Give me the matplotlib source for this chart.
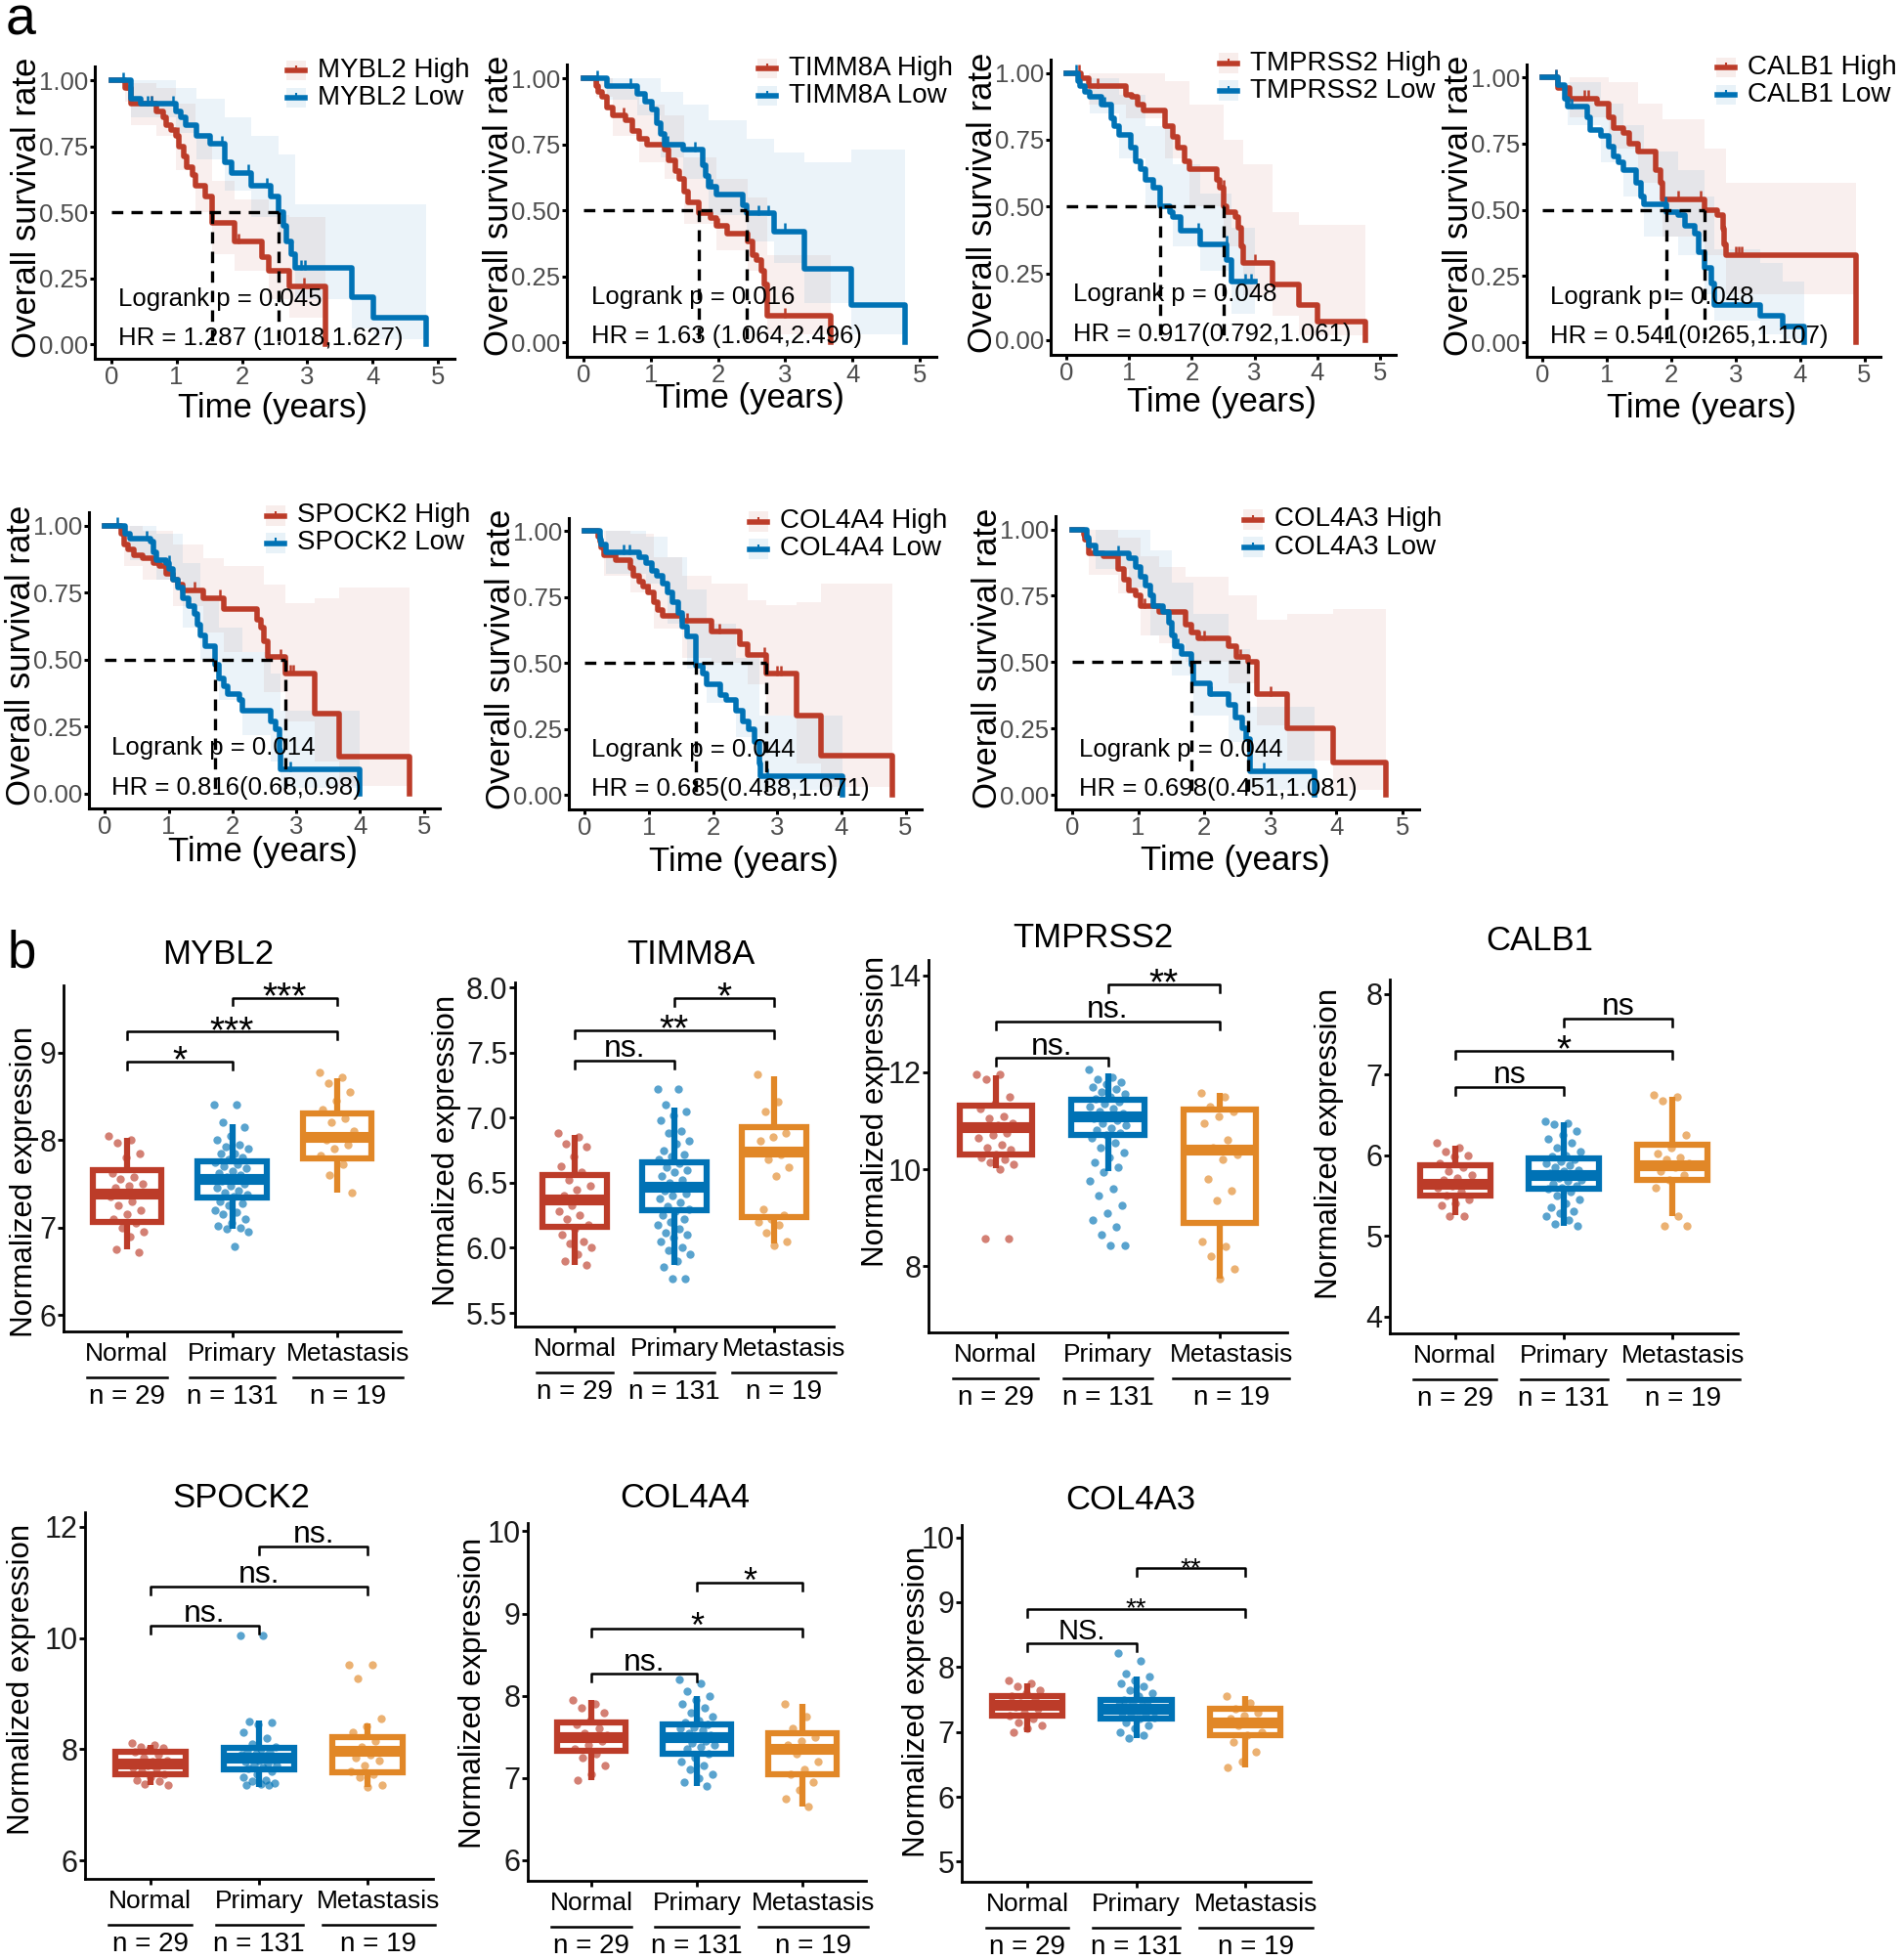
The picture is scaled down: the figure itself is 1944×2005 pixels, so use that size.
import numpy as np
import matplotlib
matplotlib.use("Agg")
import matplotlib.pyplot as plt
import matplotlib.transforms as mtransforms
from matplotlib.patches import Rectangle
from matplotlib.lines import Line2D

plt.rcParams['font.family'] = ['Liberation Sans', 'DejaVu Sans']

W, H = 1944, 2005
RED, BLUE, ORANGE = "#BC3C29", "#0072B5", "#E18727"
GREY = "#4D4D4D"

# ---------------- a: survival curves ----------------
KM_GENES = ["MYBL2", "TIMM8A", "TMPRSS2", "CALB1", "SPOCK2", "COL4A4", "COL4A3"]
KM_PVAL = ["0.045", "0.016", "0.048", "0.048", "0.014", "0.044", "0.044"]
KM_HR = ["1.287 (1.018,1.627)", "1.63 (1.064,2.496)", "0.917(0.792,1.061)",
         "0.541(0.265,1.107)", "0.816(0.68,0.98)", "0.685(0.438,1.071)",
         "0.698(0.451,1.081)"]

MYBL2_HI_T = [0, 0.21, 0.31, 0.69, 0.79, 0.84, 0.91, 0.99, 1.04, 1.11, 1.16, 1.24, 1.29, 1.44, 1.54, 1.89, 2.31, 2.41, 2.73, 3.28]
MYBL2_HI_S = [1.00, 0.97, 0.91, 0.88, 0.86, 0.83, 0.81, 0.79, 0.75, 0.71, 0.67, 0.64, 0.60, 0.56, 0.46, 0.39, 0.33, 0.28, 0.22, 0.00]
MYBL2_HI_CI = [(0, 1, 1), (0.21, 0.92, 1), (0.31, 0.83, 0.99), (0.69, 0.79, 0.97), (0.99, 0.66, 0.91), (1.29, 0.50, 0.80),
               (1.54, 0.34, 0.62), (1.89, 0.28, 0.55), (2.41, 0.17, 0.49), (2.73, 0.10, 0.48), (3.28, 0.10, 0.48)]
MYBL2_HI_CENS = [0.25, 0.62, 1.02, 1.95, 2.95]
MYBL2_LO_T = [0, 0.31, 0.45, 0.99, 1.06, 1.14, 1.31, 1.51, 1.74, 1.84, 2.14, 2.44, 2.56, 2.63, 2.68, 2.76, 2.81, 3.68, 4.01, 4.81]
MYBL2_LO_S = [1.00, 0.93, 0.91, 0.88, 0.86, 0.83, 0.79, 0.76, 0.69, 0.65, 0.60, 0.56, 0.50, 0.45, 0.39, 0.34, 0.29, 0.18, 0.10, 0.00]
MYBL2_LO_CI = [(0, 1, 1), (0.31, 0.86, 1), (0.99, 0.80, 0.97), (1.31, 0.70, 0.93), (1.74, 0.58, 0.86), (2.14, 0.48, 0.79),
               (2.56, 0.38, 0.72), (2.81, 0.17, 0.53), (3.68, 0.06, 0.53), (4.01, 0.02, 0.53), (4.81, 0.02, 0.53)]
MYBL2_LO_CENS = [0.18, 0.55, 0.62, 0.95, 1.7, 2.1, 2.38, 2.9, 2.97]

TIMM8A_HI_T = [0, 0.19, 0.22, 0.27, 0.34, 0.44, 0.63, 0.73, 0.82, 0.94, 1.21, 1.26, 1.36, 1.43, 1.50, 1.55, 1.72, 1.89, 1.98, 2.13, 2.44, 2.52, 2.57, 2.64, 2.69, 2.73, 3.68]
TIMM8A_HI_S = [1.00, 0.97, 0.95, 0.93, 0.89, 0.86, 0.84, 0.80, 0.77, 0.75, 0.73, 0.69, 0.65, 0.62, 0.57, 0.53, 0.49, 0.47, 0.44, 0.41, 0.38, 0.33, 0.31, 0.27, 0.22, 0.10, 0.00]
TIMM8A_HI_CI = [(0, 1, 1), (0.19, 0.93, 1), (0.44, 0.78, 0.96), (0.82, 0.68, 0.90), (1.21, 0.62, 0.86), (1.50, 0.45, 0.70),
                (1.98, 0.35, 0.62), (2.44, 0.27, 0.55), (2.73, 0.03, 0.33), (3.68, 0.03, 0.33)]
TIMM8A_HI_CENS = [0.2, 0.6, 2.0, 3.0]
TIMM8A_LO_T = [0, 0.34, 0.80, 0.92, 1.02, 1.09, 1.14, 1.21, 1.48, 1.77, 1.82, 1.86, 1.98, 2.37, 2.42, 2.83, 3.29, 3.99, 4.79]
TIMM8A_LO_S = [1.00, 0.97, 0.94, 0.91, 0.88, 0.83, 0.79, 0.75, 0.73, 0.67, 0.63, 0.59, 0.56, 0.52, 0.49, 0.42, 0.28, 0.14, 0.00]
TIMM8A_LO_CI = [(0, 1, 1), (0.34, 0.92, 1), (0.80, 0.86, 1), (1.14, 0.70, 0.95), (1.48, 0.62, 0.90), (1.86, 0.48, 0.84),
                (2.42, 0.38, 0.77), (2.83, 0.30, 0.72), (3.29, 0.15, 0.68), (3.99, 0.03, 0.73), (4.79, 0.03, 0.73)]
TIMM8A_LO_CENS = [0.2, 0.7, 1.25, 1.65, 1.9, 2.6, 2.75, 3.0]

TMPRSS2_HI_T = [0, 0.24, 0.35, 0.95, 1.05, 1.13, 1.23, 1.57, 1.70, 1.78, 1.88, 1.96, 2.40, 2.45, 2.51, 2.56, 2.69, 2.74, 2.79, 2.82, 3.28, 3.70, 4.01, 4.77]
TMPRSS2_HI_S = [1.00, 0.98, 0.95, 0.92, 0.91, 0.88, 0.86, 0.80, 0.76, 0.72, 0.67, 0.64, 0.60, 0.57, 0.50, 0.48, 0.46, 0.42, 0.35, 0.29, 0.21, 0.13, 0.07, 0.00]
TMPRSS2_HI_CI = [(0, 1, 1), (0.35, 0.88, 1), (0.95, 0.83, 1), (1.57, 0.68, 0.97), (1.96, 0.50, 0.88), (2.51, 0.35, 0.75),
                 (2.82, 0.17, 0.66), (3.28, 0.09, 0.48), (3.70, 0.02, 0.43), (4.77, 0.02, 0.43)]
TMPRSS2_HI_CENS = [0.2, 0.5, 2.5, 3.0]
TMPRSS2_LO_T = [0, 0.19, 0.22, 0.30, 0.37, 0.56, 0.71, 0.76, 0.84, 1.02, 1.10, 1.18, 1.26, 1.39, 1.49, 1.65, 1.70, 1.83, 2.14, 2.56, 2.64, 3.00]
TMPRSS2_LO_S = [1.00, 0.97, 0.95, 0.93, 0.91, 0.88, 0.83, 0.80, 0.77, 0.72, 0.67, 0.64, 0.60, 0.57, 0.50, 0.48, 0.46, 0.41, 0.36, 0.30, 0.22, 0.22]
TMPRSS2_LO_CI = [(0, 1, 1), (0.37, 0.85, 0.98), (0.84, 0.68, 0.92), (1.26, 0.50, 0.80), (1.70, 0.35, 0.66),
                 (2.14, 0.26, 0.55), (2.64, 0.10, 0.42), (3.00, 0.10, 0.42)]
TMPRSS2_LO_CENS = [0.15, 0.6, 2.1, 2.55, 2.85, 2.95]

CALB1_HI_T = [0, 0.24, 0.42, 0.85, 1.02, 1.10, 1.25, 1.35, 1.48, 1.76, 1.83, 1.86, 2.51, 2.72, 2.80, 2.82, 2.85, 4.87]
CALB1_HI_S = [1.00, 0.96, 0.92, 0.90, 0.85, 0.81, 0.79, 0.75, 0.72, 0.65, 0.60, 0.54, 0.50, 0.48, 0.43, 0.37, 0.33, 0.00]
CALB1_HI_CI = [(0, 1, 1), (0.42, 0.85, 1), (1.02, 0.73, 0.98), (1.48, 0.60, 0.90), (1.86, 0.40, 0.84), (2.51, 0.33, 0.73),
               (2.85, 0.18, 0.60), (4.87, 0.18, 0.60)]
CALB1_HI_CENS = [0.2, 0.65, 0.7, 2.1, 2.45, 3.0, 3.05, 3.1]
CALB1_LO_T = [0, 0.24, 0.34, 0.39, 0.69, 0.74, 0.90, 1.02, 1.10, 1.18, 1.25, 1.45, 1.53, 1.58, 1.93, 2.11, 2.21, 2.37, 2.42, 2.52, 2.62, 2.67, 3.38, 3.73, 4.06]
CALB1_LO_S = [1.00, 0.97, 0.92, 0.89, 0.85, 0.80, 0.78, 0.74, 0.70, 0.68, 0.65, 0.60, 0.55, 0.52, 0.49, 0.48, 0.44, 0.41, 0.34, 0.28, 0.22, 0.14, 0.10, 0.06, 0.00]
CALB1_LO_CI = [(0, 1, 1), (0.39, 0.82, 0.98), (0.90, 0.68, 0.90), (1.25, 0.55, 0.82), (1.58, 0.40, 0.72), (2.11, 0.33, 0.65),
               (2.52, 0.18, 0.55), (2.67, 0.08, 0.35), (3.38, 0.03, 0.30), (3.73, 0.01, 0.23), (4.06, 0.01, 0.23)]
CALB1_LO_CENS = [0.2, 0.45, 1.9]

SPOCK2_HI_T = [0, 0.25, 0.30, 0.37, 0.45, 0.60, 0.76, 0.86, 0.96, 1.06, 1.14, 1.22, 1.55, 1.86, 2.39, 2.44, 2.49, 2.55, 2.83, 3.29, 3.67, 4.77]
SPOCK2_HI_S = [1.00, 0.97, 0.93, 0.91, 0.89, 0.88, 0.86, 0.85, 0.82, 0.80, 0.78, 0.76, 0.73, 0.69, 0.65, 0.62, 0.57, 0.51, 0.45, 0.30, 0.14, 0.00]
SPOCK2_HI_CI = [(0, 1, 1), (0.30, 0.85, 1), (0.60, 0.80, 0.98), (1.06, 0.70, 0.93), (1.55, 0.60, 0.88), (1.86, 0.53, 0.85),
                (2.49, 0.38, 0.78), (2.83, 0.27, 0.71), (3.29, 0.12, 0.73), (3.67, 0.03, 0.77), (4.77, 0.03, 0.77)]
SPOCK2_HI_CENS = [0.95, 1.4, 1.8, 2.75, 2.9, 2.95]
SPOCK2_LO_T = [0, 0.32, 0.40, 0.71, 0.76, 0.81, 0.96, 1.01, 1.06, 1.14, 1.22, 1.32, 1.40, 1.45, 1.50, 1.57, 1.72, 1.78, 1.86, 1.93, 2.11, 2.16, 2.60, 2.67, 2.73, 2.75, 4.00]
SPOCK2_LO_S = [1.00, 0.97, 0.95, 0.94, 0.90, 0.87, 0.86, 0.84, 0.80, 0.77, 0.73, 0.70, 0.67, 0.63, 0.59, 0.55, 0.48, 0.43, 0.40, 0.37, 0.35, 0.31, 0.27, 0.24, 0.16, 0.09, 0.00]
SPOCK2_LO_CI = [(0, 1, 1), (0.40, 0.87, 1), (0.81, 0.80, 0.97), (1.22, 0.62, 0.86), (1.50, 0.50, 0.74), (1.78, 0.35, 0.62),
                (2.16, 0.22, 0.53), (2.60, 0.12, 0.45), (2.75, 0.02, 0.31), (4.00, 0.02, 0.31)]
SPOCK2_LO_CENS = [0.2, 0.65, 1.0, 2.9]

COL4A4_HI_T = [0, 0.20, 0.23, 0.25, 0.30, 0.48, 0.71, 0.76, 0.84, 0.91, 0.99, 1.07, 1.14, 1.22, 1.52, 1.98, 2.41, 2.54, 2.82, 3.30, 3.68, 4.80]
COL4A4_HI_S = [1.00, 0.98, 0.96, 0.94, 0.91, 0.89, 0.86, 0.83, 0.81, 0.79, 0.77, 0.73, 0.70, 0.68, 0.66, 0.62, 0.57, 0.53, 0.46, 0.30, 0.15, 0.00]
COL4A4_HI_CI = [(0, 1, 1), (0.30, 0.83, 1), (0.71, 0.77, 0.99), (1.07, 0.63, 0.90), (1.52, 0.52, 0.83), (1.98, 0.50, 0.80),
                (2.54, 0.42, 0.74), (2.82, 0.30, 0.72), (3.30, 0.12, 0.73), (3.68, 0.03, 0.80), (4.80, 0.03, 0.80)]
COL4A4_HI_CENS = [0.2, 1.0, 1.6, 2.1, 2.8, 3.0, 3.05]
COL4A4_LO_T = [0, 0.23, 0.25, 0.33, 0.84, 0.96, 1.04, 1.12, 1.22, 1.29, 1.37, 1.45, 1.52, 1.60, 1.73, 1.83, 1.90, 2.11, 2.21, 2.36, 2.46, 2.56, 2.64, 2.72, 2.74, 4.01]
COL4A4_LO_S = [1.00, 0.97, 0.95, 0.92, 0.90, 0.88, 0.85, 0.83, 0.80, 0.77, 0.73, 0.69, 0.64, 0.60, 0.49, 0.46, 0.42, 0.38, 0.36, 0.32, 0.28, 0.25, 0.20, 0.12, 0.07, 0.00]
COL4A4_LO_CI = [(0, 1, 1), (0.33, 0.84, 1), (0.96, 0.80, 0.98), (1.29, 0.65, 0.90), (1.60, 0.48, 0.78), (1.90, 0.35, 0.65),
                (2.36, 0.22, 0.52), (2.72, 0.02, 0.30), (4.01, 0.02, 0.30)]
COL4A4_LO_CENS = [0.6, 0.7, 1.85, 2.85]

COL4A3_HI_T = [0, 0.18, 0.20, 0.25, 0.48, 0.70, 0.78, 0.86, 0.96, 1.03, 1.31, 1.71, 1.81, 1.91, 2.36, 2.49, 2.67, 2.79, 3.25, 3.95, 4.75]
COL4A3_HI_S = [1.00, 0.98, 0.96, 0.91, 0.90, 0.85, 0.81, 0.77, 0.75, 0.71, 0.69, 0.64, 0.61, 0.59, 0.56, 0.52, 0.50, 0.38, 0.25, 0.12, 0.00]
COL4A3_HI_CI = [(0, 1, 1), (0.25, 0.83, 1), (0.70, 0.76, 0.97), (1.03, 0.60, 0.90), (1.31, 0.57, 0.86), (1.71, 0.50, 0.82),
                (2.36, 0.42, 0.75), (2.79, 0.26, 0.66), (3.25, 0.13, 0.68), (3.95, 0.02, 0.70), (4.75, 0.02, 0.70)]
COL4A3_HI_CENS = [0.2, 1.1, 2.0, 2.55, 3.0]
COL4A3_LO_T = [0, 0.23, 0.25, 0.35, 0.86, 0.96, 1.03, 1.11, 1.18, 1.23, 1.38, 1.46, 1.51, 1.56, 1.66, 1.81, 1.84, 2.09, 2.36, 2.47, 2.57, 2.64, 2.69, 3.67]
COL4A3_LO_S = [1.00, 0.97, 0.94, 0.91, 0.89, 0.86, 0.82, 0.79, 0.75, 0.71, 0.69, 0.65, 0.60, 0.56, 0.53, 0.49, 0.42, 0.38, 0.34, 0.29, 0.25, 0.21, 0.09, 0.00]
COL4A3_LO_CI = [(0, 1, 1), (0.35, 0.85, 1), (0.86, 0.78, 1), (1.18, 0.60, 0.92), (1.51, 0.45, 0.80), (1.84, 0.30, 0.68),
                (2.36, 0.20, 0.55), (2.69, 0.02, 0.33), (3.67, 0.02, 0.33)]
COL4A3_LO_CENS = [0.7, 1.6, 2.1, 2.9]

KM_CURVES = {
    "MYBL2": [(MYBL2_HI_T, MYBL2_HI_S, MYBL2_HI_CI, MYBL2_HI_CENS), (MYBL2_LO_T, MYBL2_LO_S, MYBL2_LO_CI, MYBL2_LO_CENS)],
    "TIMM8A": [(TIMM8A_HI_T, TIMM8A_HI_S, TIMM8A_HI_CI, TIMM8A_HI_CENS), (TIMM8A_LO_T, TIMM8A_LO_S, TIMM8A_LO_CI, TIMM8A_LO_CENS)],
    "TMPRSS2": [(TMPRSS2_HI_T, TMPRSS2_HI_S, TMPRSS2_HI_CI, TMPRSS2_HI_CENS), (TMPRSS2_LO_T, TMPRSS2_LO_S, TMPRSS2_LO_CI, TMPRSS2_LO_CENS)],
    "CALB1": [(CALB1_HI_T, CALB1_HI_S, CALB1_HI_CI, CALB1_HI_CENS), (CALB1_LO_T, CALB1_LO_S, CALB1_LO_CI, CALB1_LO_CENS)],
    "SPOCK2": [(SPOCK2_HI_T, SPOCK2_HI_S, SPOCK2_HI_CI, SPOCK2_HI_CENS), (SPOCK2_LO_T, SPOCK2_LO_S, SPOCK2_LO_CI, SPOCK2_LO_CENS)],
    "COL4A4": [(COL4A4_HI_T, COL4A4_HI_S, COL4A4_HI_CI, COL4A4_HI_CENS), (COL4A4_LO_T, COL4A4_LO_S, COL4A4_LO_CI, COL4A4_LO_CENS)],
    "COL4A3": [(COL4A3_HI_T, COL4A3_HI_S, COL4A3_HI_CI, COL4A3_HI_CENS), (COL4A3_LO_T, COL4A3_LO_S, COL4A3_LO_CI, COL4A3_LO_CENS)],
}

# ---------------- b: expression box plots ----------------
GROUPS = ["Normal", "Primary", "Metastasis"]
GROUP_N = [29, 131, 19]
BOX_GENES = ["MYBL2", "TIMM8A", "TMPRSS2", "CALB1", "SPOCK2", "COL4A4", "COL4A3"]

# (whisker low, q1, median, q3, whisker high) per group
BOX_STATS = {
    "MYBL2": [(6.75, 7.06, 7.39, 7.66, 8.02), (6.98, 7.34, 7.55, 7.76, 8.18), (7.40, 7.79, 8.04, 8.30, 8.71)],
    "TIMM8A": [(5.87, 6.16, 6.37, 6.56, 6.87), (5.87, 6.29, 6.47, 6.66, 7.08), (6.03, 6.24, 6.74, 6.93, 7.32)],
    "TMPRSS2": [(10.02, 10.30, 10.87, 11.31, 11.94), (9.96, 10.71, 11.10, 11.43, 11.98), (7.74, 8.90, 10.40, 11.23, 11.58)],
    "CALB1": [(5.26, 5.50, 5.65, 5.88, 6.12), (5.12, 5.58, 5.75, 5.96, 6.41), (5.25, 5.70, 5.87, 6.13, 6.73)],
    "SPOCK2": [(7.35, 7.55, 7.75, 7.96, 8.08), (7.33, 7.64, 7.85, 8.03, 8.52), (7.33, 7.59, 7.97, 8.22, 8.47)],
    "COL4A4": [(6.97, 7.33, 7.50, 7.67, 7.95), (6.90, 7.30, 7.50, 7.65, 8.00), (6.65, 7.05, 7.35, 7.55, 7.90)],
    "COL4A3": [(7.00, 7.25, 7.42, 7.55, 7.75), (6.90, 7.20, 7.35, 7.50, 7.85), (6.45, 6.95, 7.15, 7.35, 7.55)],
}

MYBL2_NORMAL = [8.05, 8.0, 7.97, 7.85, 7.8, 7.62, 7.58, 7.55, 7.5, 7.48, 7.45, 7.4, 7.38, 7.35, 7.3, 7.25, 7.2, 7.15, 7.1, 7.05, 7.0, 6.95, 6.9, 6.75, 6.72]
MYBL2_PRIMARY = [8.4, 8.4, 8.2, 8.15, 8.05, 8.0, 7.95, 7.92, 7.9, 7.85, 7.85, 7.8, 7.78, 7.75, 7.72, 7.7, 7.68, 7.65, 7.62, 7.6, 7.58, 7.56,
                 7.55, 7.53, 7.5, 7.48, 7.45, 7.42, 7.4, 7.38, 7.35, 7.3, 7.28, 7.25, 7.2, 7.18, 7.15, 7.1, 7.05, 7.02, 7.0, 6.98, 6.95, 6.78]
MYBL2_META = [8.78, 8.72, 8.65, 8.55, 8.45, 8.35, 8.25, 8.2, 8.1, 8.05, 8.0, 7.95, 7.9, 7.82, 7.72, 7.6, 7.4]

TIMM8A_NORMAL = [6.88, 6.85, 6.8, 6.78, 6.7, 6.63, 6.58, 6.52, 6.48, 6.45, 6.4, 6.37, 6.33, 6.28, 6.25, 6.22, 6.18, 6.15, 6.1, 6.05, 6.03, 6.0, 5.95, 5.9, 5.87]
TIMM8A_PRIMARY = [7.22, 7.22, 7.1, 7.05, 7.02, 6.98, 6.9, 6.88, 6.82, 6.8, 6.75, 6.72, 6.7, 6.68, 6.65, 6.62, 6.6, 6.58, 6.55, 6.52, 6.5, 6.48,
                  6.46, 6.44, 6.42, 6.4, 6.38, 6.35, 6.32, 6.3, 6.28, 6.25, 6.22, 6.2, 6.18, 6.15, 6.12, 6.1, 6.08, 6.05, 6.0, 5.98, 5.95, 5.9, 5.85, 5.76, 5.76]
TIMM8A_META = [7.33, 7.12, 7.05, 6.88, 6.85, 6.82, 6.72, 6.68, 6.62, 6.55, 6.3, 6.25, 6.22, 6.2, 6.18, 6.12, 6.05, 6.02]

TMPRSS2_NORMAL = [11.95, 11.95, 11.85, 11.5, 11.35, 11.25, 11.1, 11.05, 10.95, 10.9, 10.85, 10.75, 10.7, 10.65, 10.5, 10.45, 10.4, 10.3, 10.25, 10.2, 10.15, 10.1, 10.0, 8.57, 8.57]
TMPRSS2_PRIMARY = [12.05, 11.9, 11.85, 11.8, 11.75, 11.7, 11.65, 11.6, 11.55, 11.5, 11.45, 11.4, 11.35, 11.3, 11.25, 11.2, 11.15, 11.1, 11.05, 11.0,
                   10.95, 10.9, 10.85, 10.8, 10.75, 10.7, 10.65, 10.55, 10.45, 10.35, 10.25, 10.15, 10.05, 9.95, 9.75, 9.6, 9.45, 9.25, 9.1, 8.95, 8.8, 8.65, 8.42, 8.42]
TMPRSS2_META = [11.58, 11.5, 11.3, 11.2, 11.1, 10.95, 10.6, 10.45, 10.3, 10.2, 9.8, 9.55, 9.35, 8.5, 8.4, 8.2, 7.95, 7.75]

CALB1_NORMAL = [6.15, 6.1, 6.05, 6.0, 5.98, 5.9, 5.85, 5.8, 5.75, 5.72, 5.7, 5.65, 5.62, 5.6, 5.55, 5.5, 5.45, 5.4, 5.38, 5.25, 5.24]
CALB1_PRIMARY = [6.42, 6.4, 6.38, 6.3, 6.25, 6.2, 6.15, 6.1, 6.05, 6.0, 5.98, 5.95, 5.92, 5.9, 5.88, 5.85, 5.82, 5.8, 5.78, 5.75, 5.72,
                 5.7, 5.68, 5.65, 5.62, 5.6, 5.58, 5.55, 5.5, 5.45, 5.4, 5.35, 5.3, 5.28, 5.25, 5.2, 5.15, 5.12]
CALB1_META = [6.75, 6.72, 6.68, 6.25, 6.1, 6.02, 5.97, 5.95, 5.9, 5.85, 5.8, 5.75, 5.7, 5.6, 5.25, 5.13, 5.12]

SPOCK2_NORMAL = [8.12, 8.08, 8.05, 8.02, 8.0, 7.95, 7.9, 7.85, 7.8, 7.78, 7.75, 7.72, 7.7, 7.68, 7.65, 7.6, 7.55, 7.5, 7.45, 7.42, 7.38, 7.36]
SPOCK2_PRIMARY = [10.05, 10.05, 8.5, 8.48, 8.45, 8.3, 8.2, 8.1, 8.05, 8.0, 7.98, 7.95, 7.92, 7.9, 7.88, 7.85, 7.82, 7.8, 7.78, 7.75, 7.72,
                  7.7, 7.68, 7.65, 7.6, 7.55, 7.5, 7.45, 7.42, 7.4, 7.38, 7.35, 7.35]
SPOCK2_META = [9.52, 9.52, 9.28, 8.55, 8.42, 8.3, 8.15, 8.05, 7.95, 7.9, 7.85, 7.8, 7.7, 7.6, 7.55, 7.5, 7.35, 7.32]

COL4A4_NORMAL = [7.95, 7.9, 7.85, 7.8, 7.7, 7.65, 7.6, 7.55, 7.52, 7.5, 7.48, 7.45, 7.4, 7.35, 7.3, 7.25, 7.15, 7.05, 6.98]
COL4A4_PRIMARY = [8.2, 8.15, 8.05, 8.0, 7.95, 7.9, 7.85, 7.8, 7.75, 7.7, 7.68, 7.65, 7.62, 7.6, 7.58, 7.55, 7.52, 7.5, 7.48, 7.45, 7.42,
                  7.4, 7.38, 7.35, 7.3, 7.25, 7.2, 7.15, 7.1, 7.05, 7.0, 6.95, 6.9]
COL4A4_META = [7.9, 7.75, 7.6, 7.5, 7.45, 7.4, 7.35, 7.3, 7.2, 7.1, 7.05, 6.95, 6.85, 6.75, 6.65]

COL4A3_NORMAL = [7.8, 7.75, 7.7, 7.65, 7.6, 7.55, 7.5, 7.45, 7.42, 7.4, 7.38, 7.35, 7.3, 7.25, 7.2, 7.15, 7.1, 7.05, 7.0]
COL4A3_PRIMARY = [8.22, 8.1, 7.9, 7.85, 7.8, 7.75, 7.7, 7.65, 7.6, 7.55, 7.5, 7.48, 7.45, 7.42, 7.4, 7.38, 7.35, 7.32, 7.3, 7.28,
                  7.25, 7.22, 7.2, 7.15, 7.1, 7.05, 7.0, 6.95, 6.9]
COL4A3_META = [7.55, 7.45, 7.35, 7.3, 7.25, 7.2, 7.15, 7.1, 7.0, 6.95, 6.85, 6.7, 6.55, 6.45]

BOX_POINTS = {
    "MYBL2": [MYBL2_NORMAL, MYBL2_PRIMARY, MYBL2_META],
    "TIMM8A": [TIMM8A_NORMAL, TIMM8A_PRIMARY, TIMM8A_META],
    "TMPRSS2": [TMPRSS2_NORMAL, TMPRSS2_PRIMARY, TMPRSS2_META],
    "CALB1": [CALB1_NORMAL, CALB1_PRIMARY, CALB1_META],
    "SPOCK2": [SPOCK2_NORMAL, SPOCK2_PRIMARY, SPOCK2_META],
    "COL4A4": [COL4A4_NORMAL, COL4A4_PRIMARY, COL4A4_META],
    "COL4A3": [COL4A3_NORMAL, COL4A3_PRIMARY, COL4A3_META],
}

# significance brackets: (group a, group b, height, label)
BOX_SIG = {
    "MYBL2": [(1, 2, 8.90, "*"), (1, 3, 9.24, "***"), (2, 3, 9.63, "***")],
    "TIMM8A": [(1, 2, 7.44, "ns."), (1, 3, 7.67, "**"), (2, 3, 7.92, "*")],
    "TMPRSS2": [(1, 2, 12.30, "ns."), (1, 3, 13.05, "ns."), (2, 3, 13.82, "**")],
    "CALB1": [(1, 2, 6.85, "ns"), (1, 3, 7.30, "*"), (2, 3, 7.70, "ns")],
    "SPOCK2": [(1, 2, 10.23, "ns."), (1, 3, 10.93, "ns."), (2, 3, 11.65, "ns.")],
    "COL4A4": [(1, 2, 8.27, "ns."), (1, 3, 8.82, "*"), (2, 3, 9.37, "*")],
    "COL4A3": [(1, 2, 8.37, "NS."), (1, 3, 8.90, "**"), (2, 3, 9.52, "**")],
}
BOX_YLIM = {"MYBL2": (5.81, 9.77), "TIMM8A": (5.395, 8.04), "TMPRSS2": (6.63, 14.32), "CALB1": (3.79, 8.18),
            "SPOCK2": (5.67, 12.26), "COL4A4": (5.75, 10.1), "COL4A3": (4.69, 10.19)}
BOX_YTICKS = {"MYBL2": [6, 7, 8, 9], "TIMM8A": [5.5, 6.0, 6.5, 7.0, 7.5, 8.0], "TMPRSS2": [8, 10, 12, 14],
              "CALB1": [4, 5, 6, 7, 8], "SPOCK2": [6, 8, 10, 12], "COL4A4": [6, 7, 8, 9, 10], "COL4A3": [5, 6, 7, 8, 9, 10]}

# ---------------- layout (pixel boxes: left, top, right, bottom) ----------------
KM_RECT = [(97, 68.5, 465, 367), (580, 66.5, 958, 365), (1075, 61, 1428, 363), (1562, 65.5, 1924, 365),
           (91, 524, 450, 827), (582, 530, 943, 828), (1080, 528, 1452, 828)]
KM_LEG_X = [0.533, 0.516, 0.487, 0.535, 0.505, 0.51, 0.515]
KM_XLAB_DY = [50, 42, 49, 52, 45, 54, 53]
BOX_RECT = [(65, 1008, 410, 1362), (527, 1005, 853, 1357), (950, 982, 1317, 1363), (1422, 1002, 1778, 1364),
            (87, 1547, 443, 1922), (540, 1558, 886, 1924), (984, 1560, 1341, 1925)]
BOX_TITLE_XY = [(223, 977), (707, 977), (1118, 960), (1575, 963), (247, 1533), (701, 1532), (1157, 1535)]
BOX_YLAB_XY = [(40, 1209), (472, 1177), (911, 1137), (1375, 1170), (37, 1718), (499, 1732), (953, 1741)]
BOX_STAR_FS = [28, 28, 28, 28, 28, 26, 20]
GROUP_COLORS = [RED, BLUE, ORANGE]


def fx(x):
    return x / W


def fy(y):
    return 1 - y / H


def rect(l, t, r, b):
    return [fx(l), fy(b), (r - l) / W, (b - t) / H]


fig = plt.figure(figsize=(W / 100, H / 100), dpi=100)

# ---------------- panel a ----------------
for k, gene in enumerate(KM_GENES):
    l, t, r, b = KM_RECT[k]
    ax = fig.add_axes(rect(l, t, r, b))
    ax.set_xlim(-0.25, 5.25)
    ax.set_ylim(-0.055, 1.05)
    medians = []
    for (tt, ss, ci, cens), col in zip(KM_CURVES[gene], [RED, BLUE]):
        ct = [c[0] for c in ci]
        ax.fill_between(ct, [c[1] for c in ci], [c[2] for c in ci], step="post",
                        color=col, alpha=0.08, lw=0, zorder=1)
    for (tt, ss, ci, cens), col in zip(KM_CURVES[gene], [RED, BLUE]):
        tt = np.array(tt)
        ss = np.array(ss)
        ax.step(tt, ss, where="post", color=col, lw=4, zorder=3)
        idx = np.searchsorted(tt, cens, side="right") - 1
        ax.plot(cens, ss[idx] + 0.012, ls="none", marker="|", ms=7, mew=1.8, color=col, zorder=3)
        below = np.nonzero(ss <= 0.5)[0]
        if len(below):
            medians.append(tt[below[0]])
    ax.plot([0, max(medians)], [0.5, 0.5], color="black", lw=2.4, ls=(0, (3.5, 2.5)), zorder=6)
    for m in medians:
        ax.plot([m, m], [0.5, 0], color="black", lw=2.4, ls=(0, (3.5, 2.5)), zorder=6)

    ax.text(0.065, 0.205, f"Logrank p = {KM_PVAL[k]}", transform=ax.transAxes,
            fontsize=18.5, va="center", zorder=5)
    ax.text(0.065, 0.07, f"HR = {KM_HR[k]}", transform=ax.transAxes,
            fontsize=18.5, va="center", zorder=5)

    for side in ("top", "right"):
        ax.spines[side].set_visible(False)
    for side in ("left", "bottom"):
        ax.spines[side].set_linewidth(2.2)
    ax.set_xticks(range(6))
    ax.set_yticks([0, 0.25, 0.5, 0.75, 1.0])
    ax.set_yticklabels(["0.00", "0.25", "0.50", "0.75", "1.00"])
    ax.tick_params(length=3.5, width=2.2, labelsize=18.5, labelcolor=GREY, pad=1.5)

    fig.text(fx(l - 53), fy((t + b) / 2 - 5), "Overall survival rate", rotation=90,
             ha="right", va="center", fontsize=25)
    fig.text(fx((l + r) / 2 - 2), fy(b + KM_XLAB_DY[k]), "Time (years)",
             ha="center", va="center", fontsize=25)

    # legend
    x0 = l + KM_LEG_X[k] * (r - l)
    for j, (lab, col) in enumerate([("High", RED), ("Low", BLUE)]):
        yc = t + 3.5 + 28 * j
        fig.add_artist(Rectangle((fx(x0), fy(yc + 10)), 20 / W, 20 / H, transform=fig.transFigure,
                                 facecolor=col, alpha=0.09, lw=0))
        fig.add_artist(Line2D([fx(x0 + 1), fx(x0 + 19)], [fy(yc), fy(yc)], color=col, lw=4,
                              transform=fig.transFigure))
        fig.add_artist(Line2D([fx(x0 + 10)], [fy(yc - 2)], color=col, marker="|", ms=5, mew=1.5,
                              transform=fig.transFigure))
        fig.text(fx(x0 + 32), fy(yc), f"{gene} {lab}", fontsize=20, va="center")

# ---------------- panel b ----------------
for k, gene in enumerate(BOX_GENES):
    l, t, r, b = BOX_RECT[k]
    ax = fig.add_axes(rect(l, t, r, b))
    ax.set_xlim(0.4, 3.6)
    ylo, yhi = BOX_YLIM[gene]
    ax.set_ylim(ylo, yhi)
    for i, (st, col) in enumerate(zip(BOX_STATS[gene], GROUP_COLORS)):
        d = dict(whislo=st[0], q1=st[1], med=st[2], q3=st[3], whishi=st[4], fliers=[])
        ax.bxp([d], positions=[i + 1], widths=0.65, patch_artist=True, showcaps=False,
               showfliers=False, manage_ticks=False,
               boxprops=dict(facecolor="white", edgecolor=col, lw=4.5),
               whiskerprops=dict(color=col, lw=4.5, solid_capstyle="butt"),
               medianprops=dict(color=col, lw=8, solid_capstyle="butt"), zorder=2)
        vals = np.array(BOX_POINTS[gene][i])
        jit = (((np.arange(len(vals)) * 0.618034) % 1.0) - 0.5) * 0.34
        ax.scatter(i + 1 + jit, vals, s=36, color=col, alpha=0.65, lw=0, zorder=3)

    hk = 0.022 * (yhi - ylo)
    for ga, gb, yb, lab in BOX_SIG[gene]:
        ax.plot([ga, ga, gb, gb], [yb - hk, yb, yb, yb - hk], color="black", lw=1.8,
                clip_on=False, zorder=4)
        if "*" in lab:
            fs = BOX_STAR_FS[k]
            ax.annotate(lab, xy=((ga + gb) / 2, yb), xytext=(0, -0.27 * fs), textcoords="offset points",
                        ha="center", va="baseline", fontsize=fs, annotation_clip=False)
        else:
            ax.annotate(lab, xy=((ga + gb) / 2, yb), xytext=(0, 2.5), textcoords="offset points",
                        ha="center", va="baseline", fontsize=23 if lab != "NS." else 21,
                        annotation_clip=False)

    for side in ("top", "right"):
        ax.spines[side].set_visible(False)
    for side in ("left", "bottom"):
        ax.spines[side].set_linewidth(2.0)
    ax.set_xticks([1, 2, 3])
    ax.set_xticklabels(["", "", ""])
    yt = BOX_YTICKS[gene]
    ax.set_yticks(yt)
    if gene == "TIMM8A":
        ax.set_yticklabels([f"{v:.1f}" for v in yt])
    else:
        ax.set_yticklabels([str(v) for v in yt])
    ax.tick_params(length=4, width=2, labelsize=22, pad=1.5, labelcolor="#1a1a1a")

    trans = mtransforms.blended_transform_factory(ax.transData, fig.transFigure)
    for i, (g, n) in enumerate(zip(GROUPS, GROUP_N)):
        xc = i + 1 + (0.1 if i == 2 else 0.0)
        hw = [0.38, 0.40, 0.52][i]
        ax.text(xc, fy(b + 23), g, transform=trans, ha="center", va="center", fontsize=19)
        ax.plot([xc - hw, xc + hw], [fy(b + 47), fy(b + 47)], transform=trans, color="black",
                lw=1.8, clip_on=False)
        ax.text(xc, fy(b + 67), f"n = {n}", transform=trans, ha="center", va="center", fontsize=20)

    tx, ty = BOX_TITLE_XY[k]
    fig.text(fx(tx), fy(ty), gene, ha="center", va="center", fontsize=25)
    lx, ly = BOX_YLAB_XY[k]
    fig.text(fx(lx), fy(ly), "Normalized expression", rotation=90, ha="right", va="center",
             fontsize=22.5)

fig.text(fx(6), fy(36), "a", fontsize=40, va="baseline")
fig.text(fx(8), fy(990), "b", fontsize=38, va="baseline")

fig.savefig("out.png", dpi=100)
